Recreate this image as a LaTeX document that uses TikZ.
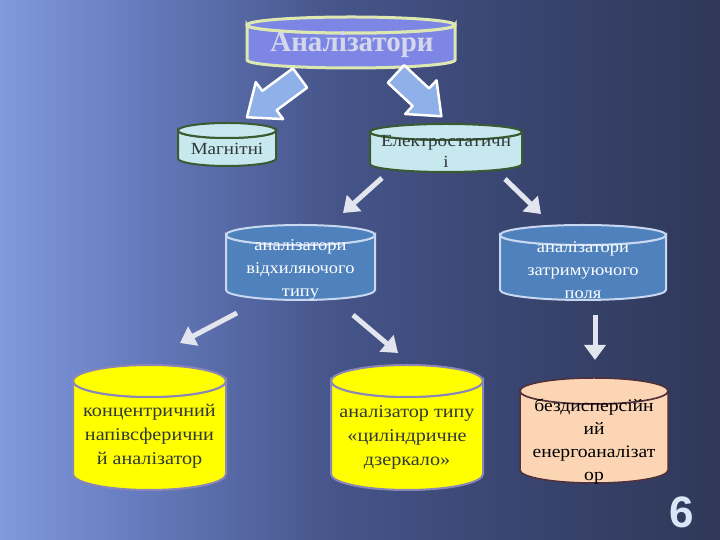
\documentclass[tikz,border=0pt]{standalone}
\usepackage{fontspec}
\setmainfont{Liberation Serif}
\newfontfamily\bodyfont[FakeStretch=1.12]{Liberation Serif}
\newfontfamily\numfont{Liberation Sans}
\usetikzlibrary{arrows.meta}
\definecolor{bgA}{HTML}{809ADC}
\definecolor{bgB}{HTML}{6A80C4}
\definecolor{bgC}{HTML}{46558A}
\definecolor{bgD}{HTML}{3A4672}
\definecolor{bgE}{HTML}{2F3858}
\pgfdeclarehorizontalshading{bgsh}{100bp}{color(0bp)=(bgA); color(25bp)=(bgA); color(33bp)=(bgB); color(48bp)=(bgC); color(60bp)=(bgD); color(75bp)=(bgE); color(100bp)=(bgE)}
\definecolor{topfill}{HTML}{7D86E4}
\definecolor{topdraw}{HTML}{DDE8B0}
\definecolor{topText}{HTML}{D4D8EA}
\definecolor{cyanfill}{HTML}{C8E8F0}
\definecolor{greendraw}{HTML}{3A5A30}
\definecolor{bluefill}{HTML}{4F81BD}
\definecolor{bluedraw}{HTML}{C8D8F0}
\definecolor{yelfill}{HTML}{FFFF00}
\definecolor{yeldraw}{HTML}{8A86B8}
\definecolor{peachfill}{HTML}{FCD5B4}
\definecolor{peachdraw}{HTML}{50303A}
\definecolor{blockfill}{HTML}{8FB0E8}
\definecolor{arrowcol}{HTML}{E2E5EE}
\definecolor{darktext}{HTML}{303838}
\definecolor{numcol}{HTML}{D8E6F8}
\newcommand{\mycyl}[8]{%
  \pgfmathsetmacro\cyT{#2-#5}%
  \pgfmathsetmacro\cyB{#3+#5}%
  \filldraw[fill=#6,draw=#7,line width=#8] ({#1-#4},\cyT) -- ({#1-#4},\cyB)
     arc[start angle=180,end angle=360,x radius=#4,y radius=#5]
     -- ({#1+#4},\cyT)
     arc[start angle=360,end angle=180,x radius=#4,y radius=#5] -- cycle;
  \filldraw[fill=#6,draw=#7,line width=#8] (#1,\cyT) ellipse[x radius=#4,y radius=#5];
}
\tikzset{
  blockarrow/.style={fill=blockfill,draw=white,line width=2.5pt,line join=round},
  thinarrow/.style={draw=arrowcol,line width=5pt,-{Triangle[length=15pt,width=21pt]}},
  cyantext/.style={font=\bodyfont\fontsize{17}{21}\selectfont,text=darktext,align=center,inner sep=0pt},
  bluetext/.style={font=\bodyfont\fontsize{16.5}{23}\selectfont,text=white,align=center,inner sep=0pt},
  yeltext/.style={font=\bodyfont\fontsize{18}{24}\selectfont,text=darktext,align=center,inner sep=0pt},
  peachtext/.style={font=\bodyfont\fontsize{17.5}{23}\selectfont,text=black,align=center,inner sep=0pt}
}
\begin{document}
\begin{tikzpicture}[x=1pt,y=1pt]
\useasboundingbox (0,0) rectangle (720,540);
\shade[shading=bgsh] (0,0) rectangle (720,540);

% cylinders
\mycyl{351}{523}{472}{104}{8}{topfill}{topdraw}{3pt}
\mycyl{227}{417}{374}{49}{7.5}{cyanfill}{greendraw}{2pt}
\mycyl{446}{416}{368}{76}{8}{cyanfill}{greendraw}{2pt}
\mycyl{300.5}{315}{240}{74.5}{10}{bluefill}{bluedraw}{2pt}
\mycyl{583}{315}{240}{83}{10}{bluefill}{bluedraw}{2pt}
\mycyl{149.5}{175}{50}{76.5}{16}{yelfill}{yeldraw}{2pt}
\mycyl{407}{175}{50}{76}{16}{yelfill}{yeldraw}{2pt}
\mycyl{594}{162}{57}{74}{13}{peachfill}{peachdraw}{1.5pt}

% texts
\node[font=\bfseries\fontsize{29}{30}\selectfont,text=topText,inner sep=0pt] (top) at (352,495) {Аналізатори};
\node[cyantext] (mag) at (227,391) {Магнітні};
\node[cyantext] (el) at (446,389) {Електростатичн\\і};
\node[bluetext] (vid) at (300.5,270) {аналізатори\\відхиляючого\\типу};
\node[bluetext] (zat) at (583,270) {аналізатори\\затримуючого\\поля};
\node[yeltext] (kon) at (149.5,104) {концентричний\\напівсферични\\й аналізатор};
\node[yeltext] (dze) at (407,102.5) {аналізатор типу\\«циліндричне\\дзеркало»};
\node[peachtext] (bez) at (594,98) {бездисперсійн\\ий\\енергоаналізат\\ор};
\node[font=\numfont\bfseries\fontsize{44}{44}\selectfont,text=numcol,inner sep=0pt] (num) at (682,28) {6};

% block arrows
\coordinate (ba1) at (300,462);
\coordinate (ba2) at (396,466);
\begin{scope}[shift={(ba1)},rotate=216.5]
\draw[blockarrow] (0,-12) -- (38,-12) -- (38,-23) -- (66,0) -- (38,23) -- (38,12) -- (0,12) -- cycle;
\end{scope}
\begin{scope}[shift={(ba2)},rotate=-43]
\draw[blockarrow] (0,-12) -- (34,-12) -- (34,-23) -- (62,0) -- (34,23) -- (34,12) -- (0,12) -- cycle;
\end{scope}

% thin arrows
\coordinate (t1s) at (382,362); \coordinate (t1e) at (343,327);
\coordinate (t2s) at (505,361); \coordinate (t2e) at (541,326);
\coordinate (t3s) at (237,227); \coordinate (t3e) at (180,197);
\coordinate (t4s) at (353,225); \coordinate (t4e) at (398,187);
\coordinate (t5s) at (595,225); \coordinate (t5e) at (595,180);
\draw[thinarrow] (t1s) -- (t1e);
\draw[thinarrow] (t2s) -- (t2e);
\draw[thinarrow] (t3s) -- (t3e);
\draw[thinarrow] (t4s) -- (t4e);
\draw[thinarrow] (t5s) -- (t5e);
\end{tikzpicture}
\end{document}
